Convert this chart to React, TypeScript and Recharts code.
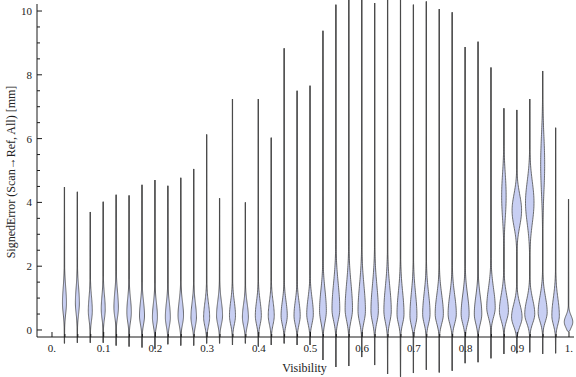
import React from 'react';
import {ComposedChart, Bar, XAxis, YAxis, Label} from 'recharts';

// bin centres on the Visibility axis
const visibility = [0.025, 0.05, 0.075, 0.1, 0.125, 0.15, 0.175, 0.2, 0.225, 0.25, 0.275, 0.3, 0.325, 0.35, 0.375, 0.4, 0.425, 0.45, 0.475, 0.5,
    0.525, 0.55, 0.575, 0.6, 0.625, 0.65, 0.675, 0.7, 0.725, 0.75, 0.775, 0.8, 0.825, 0.85, 0.875, 0.9, 0.925, 0.95, 0.975, 1.0];

// extent of each distribution (mm)
const maxError = [4.48, 4.33, 3.7, 4.02, 4.24, 4.22, 4.55, 4.7, 4.52, 4.77, 5.05, 6.13, 4.13, 7.24, 4.0, 7.24, 6.03, 8.83, 7.5, 7.66,
    9.38, 10.2, 10.6, 10.6, 10.25, 10.6, 10.55, 10.2, 10.3, 10.06, 9.96, 8.87, 9.04, 8.23, 6.95, 6.9, 7.24, 8.12, 6.34, 4.1];
const minError = [-0.42, -0.4, -0.4, -0.4, -0.49, -0.52, -0.55, -0.6, -0.45, -0.49, -0.49, -0.42, -0.42, -0.47, -0.42, -0.52, -0.47, -0.42, -0.47, -0.47,
    -0.94, -1.16, -1.13, -0.85, -1.1, -1.38, -1.47, -1.35, -1.25, -1.33, -1.28, -1.04, -1.01, -0.89, -0.75, -0.73, -0.7, -0.75, -0.73, -0.05];

// main density bump: where it peaks, how wide (relative), spread below / above
const modeError = [0.85, 0.85, 0.6, 0.65, 0.7, 0.55, 0.45, 0.4, 0.4, 0.45, 0.4, 0.4, 0.45, 0.45, 0.4, 0.45, 0.45, 0.45, 0.45, 0.5,
    0.6, 0.65, 0.65, 0.6, 0.6, 0.6, 0.5, 0.45, 0.5, 0.5, 0.5, 0.5, 0.5, 0.7, 0.6, 0.4, 0.5, 0.55, 0.45, 0.25];
const modeDensity = [0.4, 0.4, 0.4, 0.4, 0.45, 0.45, 0.5, 0.5, 0.5, 0.55, 0.55, 0.6, 0.6, 0.6, 0.6, 0.6, 0.6, 0.62, 0.62, 0.66,
    0.68, 0.78, 0.74, 0.74, 0.74, 0.74, 0.7, 0.7, 0.74, 0.82, 0.82, 0.8, 0.75, 0.85, 0.9, 1.05, 1.0, 0.9, 0.75, 0.85];
const spreadLow = [0.35, 0.35, 0.3, 0.3, 0.3, 0.3, 0.28, 0.28, 0.28, 0.28, 0.28, 0.28, 0.28, 0.28, 0.28, 0.28, 0.28, 0.28, 0.28, 0.3,
    0.35, 0.35, 0.35, 0.35, 0.35, 0.35, 0.3, 0.3, 0.3, 0.3, 0.3, 0.3, 0.3, 0.3, 0.3, 0.28, 0.28, 0.28, 0.28, 0.18];
const spreadHigh = [0.5, 0.5, 0.45, 0.45, 0.5, 0.45, 0.45, 0.45, 0.45, 0.45, 0.45, 0.45, 0.45, 0.45, 0.42, 0.45, 0.45, 0.45, 0.45, 0.5,
    0.65, 0.8, 0.8, 0.8, 0.8, 0.75, 0.7, 0.7, 0.65, 0.6, 0.6, 0.6, 0.55, 0.6, 0.5, 0.4, 0.45, 0.5, 0.55, 0.2];

// second mode for the high-visibility bins
const upperModes = [
    {at: 0.875, center: 4.2, density: 0.45, spread: 0.7},
    {at: 0.9, center: 3.75, density: 0.95, spread: 0.5},
    {at: 0.925, center: 4.0, density: 0.85, spread: 0.65},
    {at: 0.95, center: 5.2, density: 0.4, spread: 0.9},
];

const xMajor = [0, 0.1, 0.2, 0.3, 0.4, 0.5, 0.6, 0.7, 0.8, 0.9, 1.0];
const xLabels = ['0.', '0.1', '0.2', '0.3', '0.4', '0.5', '0.6', '0.7', '0.8', '0.9', '1.'];
const yTicks = [0, 0.5, 1, 1.5, 2, 2.5, 3, 3.5, 4, 4.5, 5, 5.5, 6, 6.5, 7, 7.5, 8, 8.5, 9, 9.5, 10];

const ANCHOR = [0, 10];
const DENSITY_PX = 5;
const FONT = '"Liberation Serif", "Times New Roman", serif';
const FILL = '#c8cff3';
const EDGE = '#4a4a4a';
const FRAME = '#1a1a1a';

const data = visibility.map((v, i) => ({x: v, i, anchor: ANCHOR}));

const density = (i: number, v: number) => {
    const c = modeError[i];
    const s = v < c ? spreadLow[i] : spreadHigh[i];
    let w = modeDensity[i] * Math.exp(-0.5 * ((v - c) / s) ** 2);
    upperModes.forEach(m => {
        if (Math.abs(m.at - visibility[i]) < 1e-6) w += m.density * Math.exp(-0.5 * ((v - m.center) / m.spread) ** 2);
    });
    return w;
};

const Violin = (props: any) => {
    const {x, y, width, height, payload} = props;
    const i = payload.i;
    const cx = x + width / 2;
    const unit = height / (ANCHOR[1] - ANCHOR[0]);
    const py = (v: number) => y + height - (v - ANCHOR[0]) * unit;
    const lo = minError[i], hi = maxError[i];
    const n = 160;
    const right: string[] = [];
    const left: string[] = [];
    for (let k = 0; k <= n; k++) {
        const v = lo + (hi - lo) * k / n;
        const hw = k === 0 || k === n ? 0 : DENSITY_PX * density(i, v);
        if (hw < 0.15 && k !== 0 && k !== n) continue;
        right.push(`${(cx + hw).toFixed(2)},${py(v).toFixed(2)}`);
        left.unshift(`${(cx - hw).toFixed(2)},${py(v).toFixed(2)}`);
    }
    const d = 'M' + right.join('L') + 'L' + left.join('L') + 'Z';
    return (
        <g>
            <line x1={cx} x2={cx} y1={py(lo)} y2={py(hi)} stroke="#505050" strokeWidth={1.2}/>
            <path d={d} fill={FILL} stroke={EDGE} strokeWidth={0.8} strokeLinejoin="round"/>
        </g>
    );
};

const BottomTick = (props: any) => {
    const {x, y, payload} = props;
    const k = xMajor.findIndex(m => Math.abs(m - payload.value) < 1e-6);
    return (
        <g>
            <line x1={x} x2={x} y1={y} y2={y - (k >= 0 ? 5 : 3)} stroke={FRAME}/>
            {k >= 0 && <text x={x} y={y + 15} textAnchor="middle" fontFamily={FONT} fontSize={11} fill="#222">{xLabels[k]}</text>}
        </g>
    );
};

const TopTick = (props: any) => {
    const {x, y} = props;
    return <line x1={x} x2={x} y1={y} y2={y + 4} stroke={FRAME}/>;
};

const LeftTick = (props: any) => {
    const {x, y, payload} = props;
    const major = payload.value % 2 === 0;
    return (
        <g>
            <line x1={x} x2={x + (major ? 5 : 3)} y1={y} y2={y} stroke={FRAME}/>
            {major && <text x={x - 5} y={y + 4} textAnchor="end" fontFamily={FONT} fontSize={11} fill="#222">{payload.value}</text>}
        </g>
    );
};

const RightTick = (props: any) => {
    const {x, y, payload} = props;
    const major = payload.value % 2 === 0;
    return <line x1={x} x2={x - (major ? 5 : 3)} y1={y} y2={y} stroke={FRAME}/>;
};

const App: React.FC = () => {
    return (
        <div style={{width: 576, height: 377}}>
            <style>{'body{margin:0}'}</style>
            <ComposedChart width={576} height={377} data={data} margin={{top: 4, right: 2, bottom: 0, left: 0}}>
                <XAxis dataKey="x" type="number" domain={[-0.029, 1.0097]} ticks={[0, ...visibility]} interval={0}
                       tickSize={0} tickMargin={0} tick={<BottomTick/>} tickLine={false} height={40}
                       axisLine={{stroke: FRAME}}>
                    <Label content={({viewBox}: any) => (
                        <text x={viewBox.x + viewBox.width / 2 - 1} y={372} textAnchor="middle" fontFamily={FONT}
                              fontSize={12} fill="#222">Visibility</text>
                    )}/>
                </XAxis>
                <XAxis xAxisId="top" orientation="top" type="number" domain={[-0.029, 1.0097]} allowDataOverflow
                       ticks={visibility} interval={0} tickSize={0} tickMargin={0} tick={<TopTick/>} tickLine={false}
                       height={0} axisLine={{stroke: FRAME}}/>
                <YAxis type="number" domain={[-0.22, 10.22]} ticks={yTicks} interval={0} tickSize={0} tickMargin={0}
                       tick={<LeftTick/>} tickLine={false} width={37} axisLine={{stroke: FRAME}}>
                    <Label content={() => (
                        <text x={11} y={172} transform="rotate(-90,11,172)" textAnchor="middle" dominantBaseline="central"
                              fontFamily={FONT} fontSize={12} fill="#222">SignedError (Scan→Ref, All) [mm]</text>
                    )}/>
                </YAxis>
                <YAxis yAxisId="right" orientation="right" type="number" domain={[-0.22, 10.22]} allowDataOverflow
                       ticks={yTicks} interval={0} tickSize={0} tickMargin={0} tick={<RightTick/>} tickLine={false}
                       width={0} axisLine={{stroke: FRAME}}/>
                <Bar dataKey="anchor" barSize={12} shape={<Violin/>} isAnimationActive={false}/>
            </ComposedChart>
        </div>
    );
};

export default App;
